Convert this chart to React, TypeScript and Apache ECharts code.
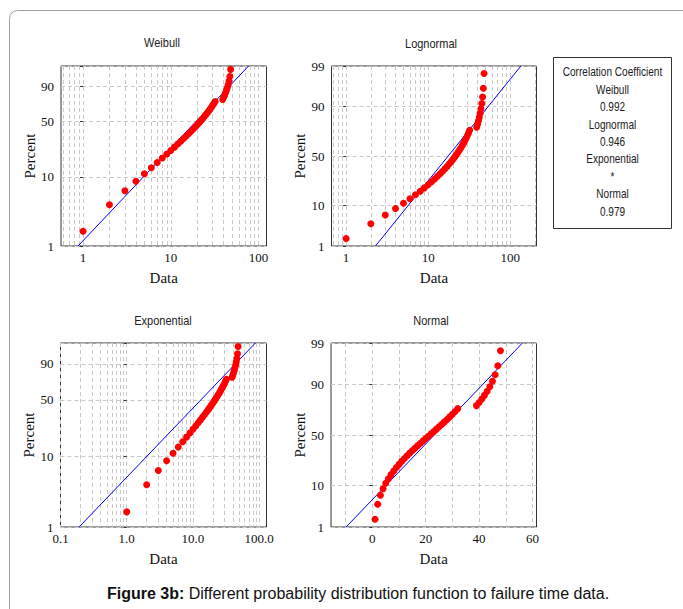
import React, { useEffect, useRef } from "react";
import * as echarts from "echarts";

// ---------- data ----------
const FAILURE_TIMES = [
  1, 2, 3, 4, 5, 6, 7, 8, 9, 10, 11, 12, 13, 14, 15, 16, 17, 18, 19, 20, 21, 22,
  23, 24, 25, 26, 27, 28, 29, 30, 31, 32, 39, 40, 41, 42, 43, 44, 45, 46, 47, 48,
];
const PANEL_TITLES = ["Weibull", "Lognormal", "Exponential", "Normal"];
const PERCENT_GRID = [1, 10, 50, 90, 99];
const PERCENT_LABELS_SHORT = [1, 10, 50, 90];
const PERCENT_LABELS_FULL = [1, 10, 50, 90, 99];
const LOG_GRID_WEIBULL = [0.6, 0.7, 0.8, 0.9, 1, 2, 3, 4, 5, 6, 7, 8, 9, 10, 20, 30, 40, 50, 60, 70, 80, 90, 100];
const LOG_GRID_LOGNORMAL = [0.7, 0.8, 0.9, 1, 2, 3, 4, 5, 6, 7, 8, 9, 10, 20, 30, 40, 50, 60, 70, 80, 90, 100, 200];
const LOG_GRID_EXPONENTIAL = [0.1, 0.2, 0.3, 0.4, 0.5, 0.6, 0.7, 0.8, 0.9, 1, 2, 3, 4, 5, 6, 7, 8, 9, 10, 20, 30, 40, 50, 60, 70, 80, 90, 100];
const LOG_LABELS = [1, 10, 100];
const EXP_LABELS = [0.1, 1, 10, 100];
const NORMAL_GRID = [-10, 0, 10, 20, 30, 40, 50, 60];
const NORMAL_LABELS = [0, 20, 40, 60];
// fitted distributions
const WEIBULL_FIT = { shape: 1.37, scale: 25.2 };
const LOGNORMAL_FIT = { mu: 2.864, sigma: 0.877 };
const EXPONENTIAL_FIT = { mean: 19.0 };
const NORMAL_FIT = { mean: 23.2, sd: 14.2 };
const LEGEND_LINES = ["Correlation Coefficient", "Weibull", "0.992", "Lognormal", "0.946", "Exponential", "*", "Normal", "0.979"];
const CAPTION_BOLD = "Figure 3b:";
const CAPTION_TEXT = " Different probability distribution function to failure time data.";

// ---------- probability scales ----------
function normInv(p: number): number {
  const a = [-3.969683028665376e1, 2.209460984245205e2, -2.759285104469687e2, 1.38357751867269e2, -3.066479806614716e1, 2.506628277459239];
  const b = [-5.447609879822406e1, 1.615858368580409e2, -1.556989798598866e2, 6.680131188771972e1, -1.328068155288572e1];
  const c = [-7.784894002430293e-3, -3.223964580411365e-1, -2.400758277161838, -2.549732539343734, 4.374664141464968, 2.938163982698783];
  const d = [7.784695709041462e-3, 3.224671290700398e-1, 2.445134137142996, 3.754408661907416];
  const pl = 0.02425;
  if (p < pl) {
    const q = Math.sqrt(-2 * Math.log(p));
    return (((((c[0] * q + c[1]) * q + c[2]) * q + c[3]) * q + c[4]) * q + c[5]) / ((((d[0] * q + d[1]) * q + d[2]) * q + d[3]) * q + 1);
  }
  if (p > 1 - pl) {
    const q = Math.sqrt(-2 * Math.log(1 - p));
    return -(((((c[0] * q + c[1]) * q + c[2]) * q + c[3]) * q + c[4]) * q + c[5]) / ((((d[0] * q + d[1]) * q + d[2]) * q + d[3]) * q + 1);
  }
  const q = p - 0.5;
  const r = q * q;
  return ((((((a[0] * r + a[1]) * r + a[2]) * r + a[3]) * r + a[4]) * r + a[5]) * q) / (((((b[0] * r + b[1]) * r + b[2]) * r + b[3]) * r + b[4]) * r + 1);
}
const weibT = (p: number) => Math.log(-Math.log(1 - p));
const normT = (p: number) => normInv(p);
const log10 = (x: number) => Math.log10(x);
const lin = (x: number) => x;

const SERIF = "'Liberation Serif', 'Times New Roman', serif";
const SANS = "'Liberation Sans', Arial, sans-serif";

type Panel = {
  title: string;
  grid: { left: number; top: number; width: number; height: number };
  xMin: number;
  xMax: number;
  xT: (x: number) => number;
  xGrid: number[];
  xLabels: number[];
  xFmt: (v: number) => string;
  yT: (p: number) => number;
  yLabels: number[];
  fitX: (p: number) => number;
  titlePos: [number, number];
};

function buildPanels(): Panel[] {
  const logFmt = (v: number) => String(Math.round(Math.pow(10, v)));
  const expFmt = (v: number) => Math.pow(10, v).toFixed(1);
  return [
    {
      title: PANEL_TITLES[0],
      grid: { left: 61, top: 66, width: 205.5, height: 180 },
      xMin: -0.251, xMax: 2.09, xT: log10, xGrid: LOG_GRID_WEIBULL, xLabels: LOG_LABELS, xFmt: logFmt,
      yT: weibT, yLabels: PERCENT_LABELS_SHORT,
      fitX: (p) => WEIBULL_FIT.scale * Math.pow(-Math.log(1 - p), 1 / WEIBULL_FIT.shape),
      titlePos: [162, 42],
    },
    {
      title: PANEL_TITLES[1],
      grid: { left: 331.5, top: 66, width: 205, height: 180 },
      xMin: -0.178, xMax: 2.32, xT: log10, xGrid: LOG_GRID_LOGNORMAL, xLabels: LOG_LABELS, xFmt: logFmt,
      yT: normT, yLabels: PERCENT_LABELS_FULL,
      fitX: (p) => Math.exp(LOGNORMAL_FIT.mu + LOGNORMAL_FIT.sigma * normInv(p)),
      titlePos: [431, 43],
    },
    {
      title: PANEL_TITLES[2],
      grid: { left: 60.5, top: 343, width: 206, height: 184 },
      xMin: -1, xMax: 2.11, xT: log10, xGrid: LOG_GRID_EXPONENTIAL, xLabels: EXP_LABELS, xFmt: expFmt,
      yT: weibT, yLabels: PERCENT_LABELS_SHORT,
      fitX: (p) => EXPONENTIAL_FIT.mean * -Math.log(1 - p),
      titlePos: [163, 320],
    },
    {
      title: PANEL_TITLES[3],
      grid: { left: 331, top: 343, width: 205.5, height: 184 },
      xMin: -15.5, xMax: 61.5, xT: lin, xGrid: NORMAL_GRID, xLabels: NORMAL_LABELS, xFmt: (v) => String(Math.round(v)),
      yT: normT, yLabels: PERCENT_LABELS_FULL,
      fitX: (p) => NORMAL_FIT.mean + NORMAL_FIT.sd * normInv(p),
      titlePos: [431, 320],
    },
  ];
}

function buildOption() {
  const panels = buildPanels();
  const sorted = [...FAILURE_TIMES].sort((a, b) => a - b);
  const n = sorted.length;
  const ranks = sorted.map((_, i) => (i + 1 - 0.3) / (n + 0.4));

  const grids: any[] = [];
  const xAxes: any[] = [];
  const yAxes: any[] = [];
  const series: any[] = [];
  const graphics: any[] = [];

  panels.forEach((pn, k) => {
    grids.push({ ...pn.grid, show: true, borderColor: "#333", borderWidth: 1, backgroundColor: "transparent", containLabel: false });
    xAxes.push({
      gridIndex: k,
      type: "value",
      min: pn.xMin,
      max: pn.xMax,
      axisLine: { show: false },
      axisTick: { show: false, customValues: pn.xGrid.map(pn.xT) },
      splitLine: { show: true, lineStyle: { color: "#c9c9c9", type: [4, 3], width: 1 } },
      axisLabel: {
        customValues: pn.xLabels.map(pn.xT),
        formatter: (v: number) => pn.xFmt(v),
        fontFamily: SERIF,
        fontSize: 13,
        color: "#111",
        margin: 5,
      },
      name: "Data",
      nameLocation: "middle",
      nameGap: 24,
      nameTextStyle: { fontFamily: SERIF, fontSize: 15, color: "#111" },
    });
    const yMin = pn.yT(0.01);
    const yMax = pn.yT(0.99);
    yAxes.push({
      gridIndex: k,
      type: "value",
      min: yMin,
      max: yMax,
      axisLine: { show: false },
      axisTick: { show: true, length: 3, inside: false, lineStyle: { color: "#333" }, customValues: PERCENT_GRID.map((p) => pn.yT(p / 100)) },
      splitLine: { show: true, lineStyle: { color: "#c9c9c9", type: [4, 3], width: 1 } },
      axisLabel: {
        customValues: pn.yLabels.map((p) => pn.yT(p / 100)),
        formatter: (v: number) => {
          const hit = PERCENT_GRID.find((p) => Math.abs(pn.yT(p / 100) - v) < 1e-6);
          return hit === undefined ? "" : String(hit);
        },
        fontFamily: SERIF,
        fontSize: 13,
        color: "#111",
        margin: 7,
      },
      name: "Percent",
      nameLocation: "middle",
      nameGap: 23,
      nameRotate: 90,
      nameTextStyle: { fontFamily: SERIF, fontSize: 15, color: "#111" },
    });
    series.push({
      type: "line",
      xAxisIndex: k,
      yAxisIndex: k,
      data: [0.01, 0.99].map((p) => [pn.xT(pn.fitX(p)), pn.yT(p)]),
      showSymbol: false,
      lineStyle: { color: "#0000ff", width: 1 },
      z: 2,
      silent: true,
    });
    series.push({
      type: "scatter",
      xAxisIndex: k,
      yAxisIndex: k,
      data: sorted.map((x, i) => [pn.xT(x), pn.yT(ranks[i])]),
      symbol: "circle",
      symbolSize: 7,
      itemStyle: { color: "#ff0000", opacity: 1 },
      z: 3,
      silent: true,
    });
    graphics.push({
      type: "text",
      x: pn.titlePos[0],
      y: pn.titlePos[1],
      scaleX: 0.88,
      style: { text: pn.title, fontFamily: SANS, fontSize: 12.5, fill: "#222", align: "center", verticalAlign: "middle" },
    });
  });

  // outer frame
  graphics.push({
    type: "rect",
    shape: { x: 9.5, y: 10.5, width: 720, height: 700, r: 8 },
    style: { fill: "none", stroke: "#a0a0a0", lineWidth: 1 },
    z: -1,
  });
  // correlation box
  graphics.push({
    type: "rect",
    shape: { x: 553.5, y: 57.5, width: 118, height: 171 },
    style: { fill: "#fff", stroke: "#333", lineWidth: 1 },
  });
  LEGEND_LINES.forEach((t, i) => {
    graphics.push({
      type: "text",
      x: 612.5,
      y: 72 + i * 17.4,
      scaleX: 0.84,
      style: { text: t, fontFamily: SANS, fontSize: 12, fill: "#222", align: "center", verticalAlign: "middle" },
      z: 10,
    });
  });
  // caption
  graphics.push({
    type: "text",
    x: 358,
    y: 593,
    style: {
      text: "{b|" + CAPTION_BOLD + "}" + CAPTION_TEXT,
      rich: { b: { fontWeight: "bold", fontFamily: SANS, fontSize: 16, fill: "#111" } },
      fontFamily: SANS,
      fontSize: 16,
      fill: "#111",
      align: "center",
      verticalAlign: "middle",
    },
  });

  return {
    animation: false,
    backgroundColor: "#ffffff",
    grid: grids,
    xAxis: xAxes,
    yAxis: yAxes,
    series,
    graphic: graphics,
  };
}

export default function App() {
  const ref = useRef<HTMLDivElement>(null);
  useEffect(() => {
    document.body.style.margin = "0";
    if (!ref.current) return;
    const chart = echarts.init(ref.current, undefined, { renderer: "svg" });
    chart.setOption(buildOption() as any);
    return () => chart.dispose();
  }, []);
  return <div ref={ref} style={{ width: 683, height: 609 }} />;
}
